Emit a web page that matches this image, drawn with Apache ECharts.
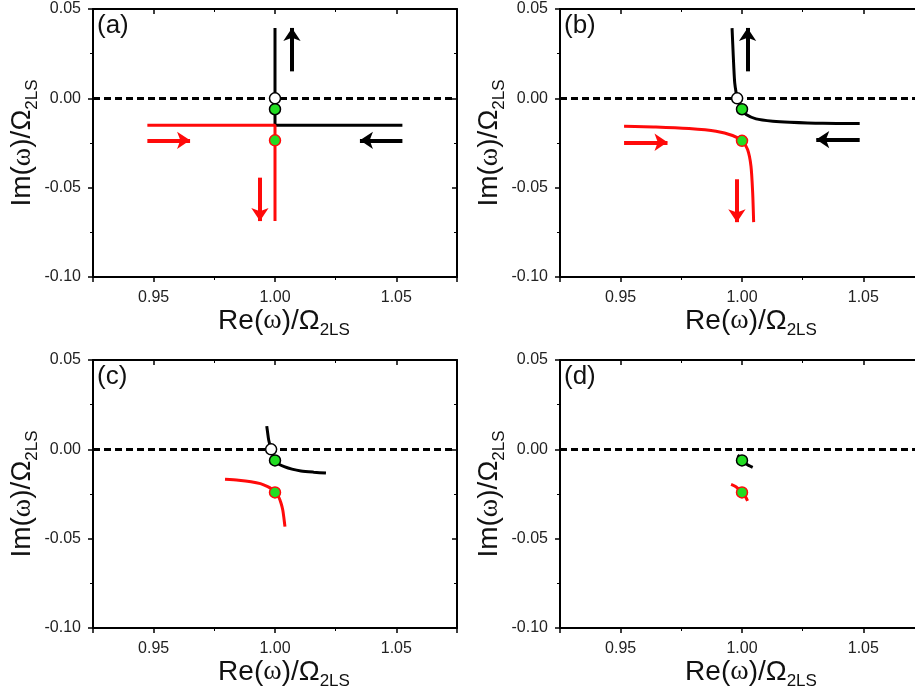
<!DOCTYPE HTML>
<html>
	<head>
		<meta charset="utf-8">
		<script src="https://cdn.jsdelivr.net/npm/echarts@6.0.0/dist/echarts.min.js"></script>
		<style>
			html, body { margin: 0; padding: 0; background: #fff; }
			#chart { width: 915px; height: 696px; }
		</style>
	</head>
	<body>
		<div id="chart"></div>
		<script type="text/javascript">

			// Axis ranges and labels
			const X_MIN = 0.925, X_MAX = 1.075;
			const Y_MIN = -0.10, Y_MAX = 0.05, Y_STEP = 0.05;
			const PANEL_LABELS = ["(a)", "(b)", "(c)", "(d)"];
			const X_NAME = "{t|Re(}{w|ω}{t|)/Ω}{s|2LS}";
			const Y_NAME = "{t|Im(}{w|ω}{t|)/Ω}{s|2LS}";

			// Panel (a)
			const blackA = [[1.000, 0.0394], [1.000, -0.0151], [1.0525, -0.0151]];
			const redA = [[0.9474, -0.0151], [1.000, -0.0151], [1.000, -0.0687]];
			const whiteA = [[1.000, 0.000]];
			const greenBlackA = [[1.000, -0.0061]];
			const greenRedA = [[1.000, -0.0235]];
			const arrowsBlackA = [[[1.007, 0.0151], [1.007, 0.0394]], [[1.0525, -0.0235], [1.035, -0.0235]]];
			const arrowsRedA = [[[0.9474, -0.0235], [0.965, -0.0235]], [[0.9938, -0.0444], [0.9938, -0.0687]]];

			// Panel (b)
			const blackB = [[0.9959, 0.0393], [0.9962, 0.030], [0.9966, 0.0179], [0.9970, 0.0086], [0.9976, 0.0030],
				[0.9981, 0.000], [0.9990, -0.0035], [1.000, -0.0061], [1.0017, -0.0091], [1.0058, -0.0115], [1.0127, -0.0128],
				[1.0196, -0.0134], [1.0333, -0.0140], [1.0485, -0.0141]];
			const redB = [[0.9514, -0.0156], [0.9645, -0.0160], [0.9782, -0.0169], [0.9893, -0.0184], [0.9961, -0.0208],
				[1.000, -0.0238], [1.0023, -0.0287], [1.0037, -0.0380], [1.0044, -0.0529], [1.0048, -0.0693]];
			const whiteB = [[0.998, 0.000]];
			const greenBlackB = [[1.000, -0.0061]];
			const greenRedB = [[1.000, -0.0238]];
			const arrowsBlackB = [[[1.0023, 0.0151], [1.0023, 0.0394]], [[1.0485, -0.0231], [1.0306, -0.0231]]];
			const arrowsRedB = [[[0.9514, -0.0246], [0.9693, -0.0246]], [[0.9979, -0.0453], [0.9979, -0.0693]]];

			// Panel (c)
			const blackC = [[0.9966, 0.0130], [0.9970, 0.0090], [0.9974, 0.0052], [0.9984, 0.000], [1.000, -0.0062],
				[1.0015, -0.0082], [1.0038, -0.0097], [1.0070, -0.0111], [1.0107, -0.0121], [1.0160, -0.0128], [1.0210, -0.0133]];
			const redC = [[0.9794, -0.0168], [0.9850, -0.0173], [0.9901, -0.0181], [0.9940, -0.0192], [0.9970, -0.0209],
				[0.9988, -0.0224], [1.000, -0.0241], [1.0015, -0.0266], [1.0025, -0.0302], [1.0032, -0.0340],
				[1.0036, -0.0377], [1.0041, -0.0433]];
			const whiteC = [[0.9984, 0.000]];
			const greenBlackC = [[1.000, -0.0062]];
			const greenRedC = [[1.000, -0.0241]];

			// Panel (d)
			const blackD = [[0.9982, -0.0032], [0.9992, -0.0045], [1.000, -0.0062], [1.0017, -0.0082], [1.0044, -0.0101]];
			const redD = [[0.9955, -0.0196], [0.9975, -0.0209], [1.000, -0.0241], [1.0014, -0.0265], [1.0023, -0.0288]];
			const greenBlackD = [[1.000, -0.0062]];
			const greenRedD = [[1.000, -0.0241]];

			const panels = [
				{black: blackA, red: redA, white: whiteA, gb: greenBlackA, gr: greenRedA, ab: arrowsBlackA, ar: arrowsRedA, smooth: false},
				{black: blackB, red: redB, white: whiteB, gb: greenBlackB, gr: greenRedB, ab: arrowsBlackB, ar: arrowsRedB, smooth: 0.25},
				{black: blackC, red: redC, white: whiteC, gb: greenBlackC, gr: greenRedC, ab: [], ar: [], smooth: 0.25},
				{black: blackD, red: redD, white: [], gb: greenBlackD, gr: greenRedD, ab: [], ar: [], smooth: 0.25}
			];

			const FONT = "'Liberation Sans', Arial, sans-serif";
			const RED = "#ff0a0a";
			const GREEN = "#22dd22";
			const grids = [
				{left: 93, top: 9, width: 364, height: 268, outerBoundsMode: "none"},
				{left: 560, top: 9, width: 364, height: 268, outerBoundsMode: "none"},
				{left: 93, top: 360, width: 364, height: 268, outerBoundsMode: "none"},
				{left: 560, top: 360, width: 364, height: 268, outerBoundsMode: "none"}
			];

			function nameStyle(pad) {
				return {
					color: "#111", fontSize: 28, fontFamily: FONT, padding: pad,
					rich: {
						t: {fontSize: 28, fontFamily: FONT, lineHeight: 36, color: "#111"},
						w: {fontSize: 28, fontFamily: "'Liberation Serif', serif", lineHeight: 36, color: "#111"},
						s: {fontSize: 17, fontFamily: FONT, lineHeight: 15, verticalAlign: "bottom", color: "#111"}
					}
				};
			}

			function axisLine() {
				return {show: true, onZero: false, lineStyle: {color: "#000", width: 2}};
			}

			var xAxes = [], yAxes = [], series = [];

			grids.forEach(function(g, i) {
				xAxes.push({
					gridIndex: i, type: "value", min: X_MIN, max: X_MAX, splitNumber: 3, position: "bottom",
					axisLine: axisLine(),
					axisTick: {show: true, length: 5, lineStyle: {color: "#000", width: 1.5}},
					minorTick: {show: true, splitNumber: 2, length: 3, lineStyle: {color: "#000", width: 1}},
					splitLine: {show: false},
					axisLabel: {color: "#222", fontSize: 16, fontFamily: FONT, margin: 13,
						showMinLabel: false, showMaxLabel: false,
						formatter: function(v) { return v.toFixed(2); }},
					name: X_NAME, nameLocation: "middle", nameGap: 25, nameTextStyle: nameStyle([0, 0, 0, 18])
				});
				xAxes.push({
					gridIndex: i, type: "value", min: X_MIN, max: X_MAX, splitNumber: 3, position: "top",
					axisLine: axisLine(),
					axisTick: {show: true, inside: true, length: 5, lineStyle: {color: "#000", width: 1.5}},
					minorTick: {show: true, splitNumber: 2, length: 3, lineStyle: {color: "#000", width: 1}},
					splitLine: {show: false},
					axisLabel: {show: false}
				});
				yAxes.push({
					gridIndex: i, type: "value", min: Y_MIN, max: Y_MAX, interval: Y_STEP, position: "left",
					axisLine: axisLine(),
					axisTick: {show: true, length: 5, lineStyle: {color: "#000", width: 1.5}},
					minorTick: {show: true, splitNumber: 2, length: 3, lineStyle: {color: "#000", width: 1}},
					splitLine: {show: false},
					axisLabel: {color: "#222", fontSize: 16, fontFamily: FONT, margin: 12,
						formatter: function(v) { return v.toFixed(2); }},
					name: Y_NAME, nameLocation: "middle", nameGap: 45, nameRotate: 90, nameTextStyle: nameStyle(0)
				});
				yAxes.push({
					gridIndex: i, type: "value", min: Y_MIN, max: Y_MAX, interval: Y_STEP, position: "right",
					axisLine: axisLine(),
					axisTick: {show: true, inside: true, length: 5, lineStyle: {color: "#000", width: 1.5}},
					minorTick: {show: true, splitNumber: 2, length: 3, lineStyle: {color: "#000", width: 1}},
					splitLine: {show: false},
					axisLabel: {show: false}
				});

				var p = panels[i];
				var ax = {xAxisIndex: 2 * i, yAxisIndex: 2 * i};

				series.push(Object.assign({
					type: "line", data: p.black, showSymbol: false, smooth: p.smooth,
					lineStyle: {color: "#000", width: 3}, z: 3,
					markLine: {
						silent: true, symbol: "none", label: {show: false},
						lineStyle: {color: "#000", width: 3, type: [7, 4]},
						data: [{yAxis: 0}]
					}
				}, ax));
				series.push(Object.assign({
					type: "line", data: p.red, showSymbol: false, smooth: p.smooth,
					lineStyle: {color: RED, width: 3}, z: 3
				}, ax));
				series.push(Object.assign({
					type: "lines", coordinateSystem: "cartesian2d", symbol: ["none", "arrow"], symbolSize: 13,
					lineStyle: {color: "#000", width: 4, opacity: 1}, z: 4,
					data: p.ab.map(function(c) { return {coords: c}; })
				}, ax));
				series.push(Object.assign({
					type: "lines", coordinateSystem: "cartesian2d", symbol: ["none", "arrow"], symbolSize: 13,
					lineStyle: {color: RED, width: 4, opacity: 1}, z: 4,
					data: p.ar.map(function(c) { return {coords: c}; })
				}, ax));
				series.push(Object.assign({
					type: "scatter", symbolSize: 11, z: 6,
					data: p.white.map(function(v) { return {value: v, itemStyle: {color: "#fff", borderColor: "#000", borderWidth: 1.5, opacity: 1}}; })
						.concat(p.gb.map(function(v) { return {value: v, itemStyle: {color: GREEN, borderColor: "#000", borderWidth: 1.5, opacity: 1}}; }))
						.concat(p.gr.map(function(v) { return {value: v, itemStyle: {color: GREEN, borderColor: RED, borderWidth: 1.5, opacity: 1}}; }))
				}, ax));
			});

			var chart = echarts.init(document.getElementById("chart"));
			chart.setOption({
				animation: false,
				backgroundColor: "#fff",
				title: PANEL_LABELS.map(function(t, i) {
					return {text: t, left: grids[i].left + 4, top: grids[i].top + 4, padding: 0,
						textStyle: {fontSize: 26, fontWeight: "normal", color: "#111", fontFamily: FONT}};
				}),
				grid: grids,
				xAxis: xAxes,
				yAxis: yAxes,
				series: series
			});
		</script>
	</body>
</html>
